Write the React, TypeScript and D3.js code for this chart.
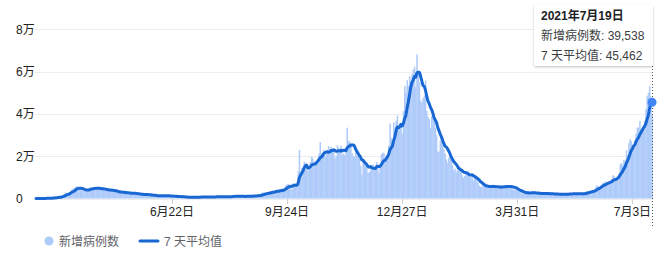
import React from "react";
import * as d3 from "d3";

// Daily new cases, one row per week, starting 2020-03-03 (Tue)
const startDate = new Date(2020, 2, 3);
const dailyCases: number[] = [
  12, 36, 29, 48, 43, 67, 48,
  52, 83, 134, 117, 208, 342, 251,
  152, 407, 676, 643, 706, 1035, 665,
  967, 1427, 2129, 2885, 2546, 2433, 2619,
  3009, 4324, 4244, 4950, 5235, 5903, 4802,
  4634, 4491, 3844, 3706, 4234, 3988, 3342,
  4252, 4617, 5199, 5125, 5250, 4676, 4301,
  4451, 4583, 5386, 4913, 4463, 4309, 3996,
  3896, 4076, 4032, 3967, 4206, 3779, 3468,
  3577, 3432, 3324, 3155, 2871, 2570, 2915,
  3042, 2946, 2803, 2660, 2551, 2384, 2242,
  2412, 2615, 2614, 2433, 2409, 2005, 1625,
  2004, 2013, 1887, 2095, 1936, 1570, 1653,
  1871, 1805, 1650, 1557, 1326, 1205, 1741,
  1003, 1003, 1266, 1541, 1425, 1514, 1056,
  1279, 1115, 1218, 1346, 1295, 1221, 958,
  921, 653, 1118, 1006, 890, 901, 815,
  689, 829, 576, 624, 516, 546, 352,
  581, 630, 512, 642, 820, 650, 530,
  538, 726, 687, 827, 796, 580, 725,
  445, 560, 769, 880, 743, 747, 880,
  763, 1046, 846, 880, 744, 938, 758,
  670, 950, 871, 758, 1062, 1012, 812,
  1148, 1009, 1441, 1033, 1040, 1005, 713,
  1089, 1182, 1033, 812, 1288, 1041, 853,
  1184, 1048, 1522, 1276, 1108, 1715, 1295,
  1508, 1735, 1940, 2948, 1813, 2988, 2460,
  2420, 2659, 2919, 3539, 3497, 3330, 3105,
  3991, 3395, 3395, 4322, 4422, 3899, 4368,
  4926, 6178, 6634, 6874, 6042, 5693, 4044,
  7143, 7108, 6914, 6968, 12872, 22961, 12594,
  14542, 14162, 17540, 13864, 15166, 12872, 13972,
  17234, 19724, 18980, 15650, 16171, 16982, 18804,
  21331, 26688, 21242, 20530, 23012, 19790, 20890,
  22885, 24701, 23065, 24405, 21915, 23254, 18950,
  20018, 25177, 24141, 23287, 24957, 20572, 21350,
  20412, 22950, 33470, 27301, 26860, 24962, 21363,
  20051, 19609, 22915, 20252, 19875, 18662, 15450,
  11299, 18213, 17555, 16022, 15871, 12155, 12330,
  13430, 14879, 16170, 14750, 15539, 17272, 14718,
  12282, 16578, 20964, 21672, 21502, 18447, 20263,
  18450, 25161, 35383, 28507, 27052, 35928, 33364,
  36804, 39237, 32725, 32725, 34693, 30501, 41385,
  53135, 50023, 55892, 53285, 57725, 54990, 58784,
  60916, 62322, 52618, 68053, 59937, 54940, 46169,
  45533, 47525, 48682, 55761, 41346, 38598, 37535,
  33355, 38905, 37892, 40261, 33552, 30004, 22195,
  22089, 27308, 28680, 29079, 23275, 21088, 18607,
  16840, 19202, 20634, 18262, 15845, 13308, 14104,
  12364, 13494, 13013, 15144, 13308, 10972, 9765,
  10625, 12718, 12057, 12027, 10406, 9834, 10641,
  8489, 9985, 9938, 8523, 7434, 6035, 5455,
  5712, 6385, 6566, 6040, 5177, 5455, 4712,
  5766, 6305, 6609, 5534, 5177, 4618, 5089,
  5294, 5758, 6303, 5782, 5587, 5312, 5342,
  5379, 5605, 6397, 6187, 4715, 3862, 4654,
  4040, 4052, 3402, 3423, 3010, 2297, 2762,
  2379, 2763, 2609, 3150, 2589, 1730, 3568,
  2472, 2491, 2672, 2596, 2206, 1882, 2524,
  2524, 2396, 2729, 2678, 1907, 1712, 2064,
  2685, 2166, 2381, 2445, 1671, 1649, 2056,
  1946, 2313, 2290, 1847, 1770, 1607, 2057,
  2474, 2284, 2657, 2193, 2027, 1926, 2412,
  2196, 2374, 2480, 2329, 2194, 1979, 1935,
  2439, 3180, 3542, 3398, 3240, 3165, 3383,
  3165, 4330, 5274, 6238, 5765, 5341, 5683,
  6048, 7540, 7393, 8125, 7738, 7490, 7742,
  7673, 9055, 11007, 10476, 9284, 9006, 10633,
  11625, 16135, 16703, 15810, 18270, 14876, 22868,
  20479, 26068, 27989, 27125, 24885, 24248, 27334,
  30773, 33548, 33551, 36707, 32367, 31772, 34471,
  36680, 42302, 48553, 50000, 53000, 48161, 39538,
];

const yTicks = [0, 20000, 40000, 60000, 80000];
const yTickLabels = ["0", "2万", "4万", "6万", "8万"];
const xTickDates = [
  new Date(2020, 5, 22),
  new Date(2020, 8, 24),
  new Date(2020, 11, 27),
  new Date(2021, 2, 31),
  new Date(2021, 6, 3),
];
const seriesNames = ["新增病例数", "7 天平均值"];
const tooltipLabels = ["新增病例数", "7 天平均值"];

const FONT = "Arial, 'Liberation Sans', 'Noto Sans CJK SC', sans-serif";

export default function App() {
  const W = 666;
  const H = 257;
  const dates = dailyCases.map((_, i) => d3.timeDay.offset(startDate, i));
  const avg = dailyCases.map((_, i) => {
    const s = dailyCases.slice(Math.max(0, i - 6), i + 1);
    return d3.mean(s) as number;
  });
  const endDate = dates[dates.length - 1];

  const x = d3.scaleTime().domain([startDate, endDate]).range([36, 652]);
  const y = d3.scaleLinear().domain([0, 80000]).range([198.5, 29.2]);
  const step = x(dates[1]) - x(dates[0]);

  const line = d3
    .line<number>()
    .x((_, i) => x(dates[i]))
    .y((v) => y(v))
    .curve(d3.curveMonotoneX);

  const last = dates.length - 1;
  const fmt = d3.format(",");
  const tipDate = `${endDate.getFullYear()}年${endDate.getMonth() + 1}月${endDate.getDate()}日`;
  const tickFmt = (d: Date) => `${d.getMonth() + 1}月${d.getDate()}日`;
  const lx = x(endDate);

  return (
    <svg
      width={W}
      height={H}
      style={{ position: "absolute", left: 0, top: 0, fontFamily: FONT }}
    >
      <defs>
        <filter id="sh" x="-20%" y="-20%" width="140%" height="150%">
          <feDropShadow dx="0" dy="1" stdDeviation="1.2" floodColor="#000" floodOpacity="0.25" />
        </filter>
      </defs>
      <rect x={0} y={0} width={W} height={H} fill="#fff" />
      {yTicks.map((t, i) => (
        <g key={t}>
          <line
            x1={35}
            x2={653}
            y1={Math.round(y(t)) + 0.5}
            y2={Math.round(y(t)) + 0.5}
            stroke="#ececec"
            strokeWidth={1}
          />
          <text x={16} y={y(t) + 4.5} fontSize={12} fill="#222">
            {yTickLabels[i]}
          </text>
        </g>
      ))}
      {xTickDates.map((d) => (
        <g key={d.getTime()}>
          <line
            x1={Math.round(x(d)) + 0.5}
            x2={Math.round(x(d)) + 0.5}
            y1={199}
            y2={204}
            stroke="#d0d0d0"
          />
          <text x={x(d)} y={216} fontSize={12} fill="#222" textAnchor="middle">
            {tickFmt(d)}
          </text>
        </g>
      ))}
      <g fill="#aecbfa">
        {dailyCases.map((v, i) => (
          <rect
            key={i}
            x={x(dates[i]) - step / 2}
            y={y(v)}
            width={step + 0.3}
            height={y(0) - y(v)}
          />
        ))}
      </g>
      <path
        d={line(avg) || ""}
        fill="none"
        stroke="#1967d2"
        strokeWidth={3}
        strokeLinejoin="round"
        strokeLinecap="round"
      />
      <line
        x1={Math.round(lx) + 0.5}
        x2={Math.round(lx) + 0.5}
        y1={66}
        y2={228}
        stroke="#555"
        strokeDasharray="1,2"
      />
      <circle cx={lx} cy={y(avg[last])} r={4.5} fill="#4285f4" />
      <g filter="url(#sh)">
        <rect x={534} y={5} width={119} height={61} rx={2} fill="#fff" />
      </g>
      <text x={541} y={20} fontSize={12} fontWeight="bold" fill="#202124">
        {tipDate}
      </text>
      <text x={541} y={39.5} fontSize={12} fill="#3c4043">
        {`${tooltipLabels[0]}: ${fmt(dailyCases[last])}`}
      </text>
      <text x={541} y={59.5} fontSize={12} fill="#3c4043">
        {`${tooltipLabels[1]}: ${fmt(Math.round(avg[last]))}`}
      </text>
      <circle cx={49} cy={241} r={4.5} fill="#aecbfa" />
      <text x={59} y={245.5} fontSize={12} fill="#5f6368">
        {seriesNames[0]}
      </text>
      <line x1={140} x2={158} y1={241} y2={241} stroke="#1967d2" strokeWidth={3} strokeLinecap="round" />
      <text x={164} y={245.5} fontSize={12} fill="#5f6368">
        {seriesNames[1]}
      </text>
    </svg>
  );
}
